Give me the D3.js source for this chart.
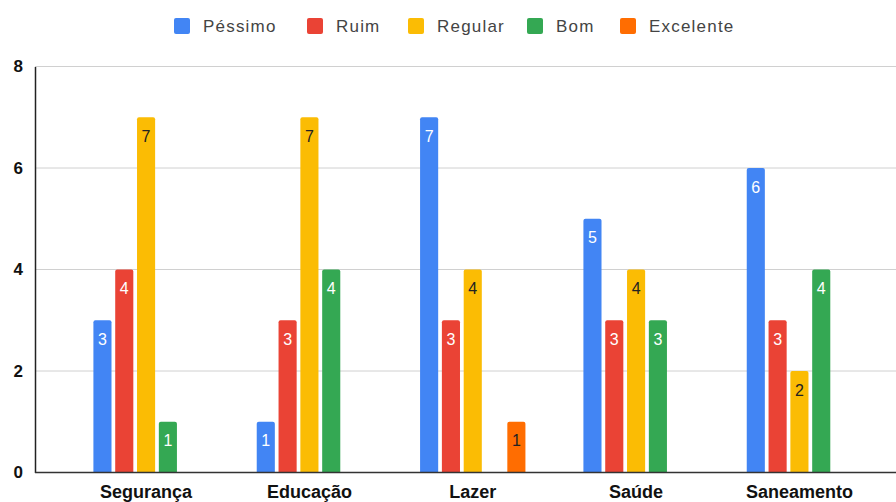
<!DOCTYPE html>
<html><head><meta charset="utf-8">
<script src="https://cdn.jsdelivr.net/npm/d3@7"></script>
<style>body{margin:0;background:#fff}svg{display:block}</style>
</head><body><svg id="c" width="896" height="502"></svg>
<script>
const categories = ["Segurança", "Educação", "Lazer", "Saúde", "Saneamento"];
const seriesNames = ["Péssimo", "Ruim", "Regular", "Bom", "Excelente"];
const pessimo   = [3, 1, 7, 5, 6];
const ruim      = [4, 3, 3, 3, 3];
const regular   = [7, 7, 4, 4, 2];
const bom       = [1, 4, 0, 3, 4];
const excelente = [0, 0, 1, 0, 0];
const yTicks = [0, 2, 4, 6, 8];
const colors = ["#4285F4", "#EA4335", "#FBBC04", "#34A853", "#FF6D01"];
const labelColors = ["#fff", "#fff", "#222", "#fff", "#222"];
const seriesValues = [pessimo, ruim, regular, bom, excelente];

const svg = d3.select("#c");
const x0 = d3.scaleBand().domain(categories).range([64, 881.5]).paddingInner(0.355).paddingOuter(0.18);
const x1 = d3.scaleBand().domain(seriesNames).range([0, x0.bandwidth()]).paddingInner(0.17);
const y = d3.scaleLinear().domain([0, 8]).range([472.5, 66.5]);

// gridlines
svg.append("g").selectAll("line").data(yTicks.filter(d => d > 0)).join("line")
  .attr("x1", 35).attr("x2", 896).attr("y1", d => y(d)).attr("y2", d => y(d))
  .attr("stroke", "#d0d0d0").attr("stroke-width", 1);

// y axis
const yAxis = svg.append("g").attr("transform", "translate(35,0)")
  .call(d3.axisLeft(y).tickValues(yTicks).tickSize(0).tickPadding(12).tickFormat(d3.format("d")));
yAxis.select(".domain").attr("stroke", "#222").attr("stroke-width", 1.5);
yAxis.selectAll("text").attr("font-family", "Liberation Sans, Arial, sans-serif")
  .attr("font-size", 17).attr("font-weight", "bold").attr("fill", "#111");

// bars
const data = [];
categories.forEach((c, i) => seriesNames.forEach((s, j) => {
  data.push({cat: c, ser: s, j, v: seriesValues[j][i]});
}));
const bars = svg.append("g");
bars.selectAll("path").data(data.filter(d => d.v > 0)).join("path")
  .attr("fill", d => colors[d.j])
  .attr("d", d => {
    const x = x0(d.cat) + x1(d.ser), w = x1.bandwidth(), yt = y(d.v), yb = y(0), r = 2;
    return `M${x},${yb}V${yt + r}Q${x},${yt} ${x + r},${yt}H${x + w - r}Q${x + w},${yt} ${x + w},${yt + r}V${yb}Z`;
  });
bars.selectAll("text").data(data.filter(d => d.v > 0)).join("text")
  .attr("x", d => x0(d.cat) + x1(d.ser) + x1.bandwidth() / 2)
  .attr("y", d => y(d.v) + 19)
  .attr("dy", "0.35em")
  .attr("text-anchor", "middle")
  .attr("font-family", "Liberation Sans, Arial, sans-serif")
  .attr("font-size", 16)
  .attr("fill", d => labelColors[d.j])
  .text(d => d.v);

// x axis baseline
svg.append("line").attr("x1", 35).attr("x2", 896).attr("y1", y(0)).attr("y2", y(0))
  .attr("stroke", "#333").attr("stroke-width", 1.5);

// x labels
const xAxis = svg.append("g").attr("transform", `translate(0,${y(0)})`)
  .call(d3.axisBottom(x0).tickSize(0).tickPadding(13));
xAxis.select(".domain").remove();
xAxis.selectAll("text").attr("font-family", "Liberation Sans, Arial, sans-serif")
  .attr("font-size", 18).attr("font-weight", "bold").attr("fill", "#111");

// legend
const legendX = [173, 306, 407, 526, 619];
const lg = svg.append("g").selectAll("g").data(seriesNames).join("g")
  .attr("transform", (d, i) => `translate(${legendX[i]},26)`);
lg.append("rect").attr("x", 1).attr("y", -8).attr("width", 16).attr("height", 16).attr("rx", 2)
  .attr("fill", (d, i) => colors[i]);
lg.append("text").attr("x", 30).attr("dy", "0.35em")
  .attr("font-family", "Liberation Sans, Arial, sans-serif").attr("font-size", 17)
  .attr("letter-spacing", 1.2).attr("fill", "#444").text(d => d);
</script></body></html>
